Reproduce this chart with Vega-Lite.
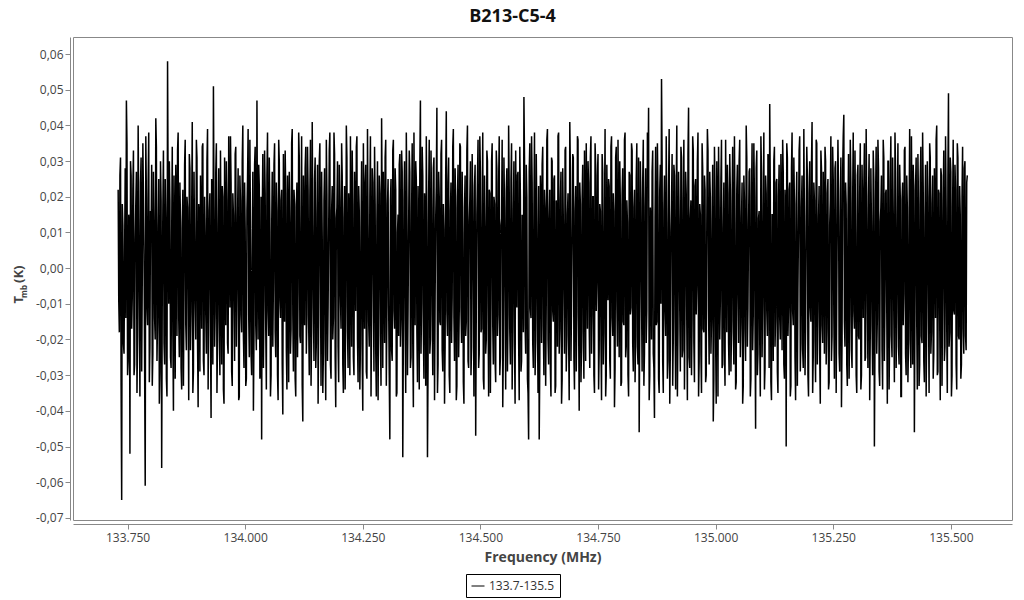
{
"$schema": "https://vega.github.io/schema/vega-lite/v6.json",
"width": 939,
"height": 483,
"autosize": {"type": "none"},
"padding": {"left": 73, "top": 37, "right": 12, "bottom": 80},
"background": "white",
"title": {"text": "B213-C5-4", "fontSize": 18, "fontWeight": "bold", "font": "Open Sans", "color": "#111111", "anchor": "middle", "dx": -30, "offset": 11},
"config": {
"font": "Open Sans",
"view": {"stroke": "#888888", "strokeWidth": 1},
"axis": {"grid": false, "domainColor": "#888888", "tickColor": "#888888", "labelColor": "#444444", "labelFontSize": 12, "labelFont": "Open Sans", "titleColor": "#444444", "titleFontSize": 14, "titleFontWeight": "bold", "titleFont": "Open Sans"}
},
"data": {"values": [
{"f":133.7300,"t":0.022},{"f":133.7325,"t":-0.018},{"f":133.7350,"t":0.031},{"f":133.7375,"t":-0.065},
{"f":133.7400,"t":0.012},{"f":133.7425,"t":-0.024},{"f":133.7450,"t":0.028},{"f":133.7475,"t":0.047},
{"f":133.7500,"t":-0.030},{"f":133.7525,"t":0.015},{"f":133.7550,"t":-0.052},{"f":133.7575,"t":0.026},
{"f":133.7600,"t":-0.008},{"f":133.7625,"t":0.033},{"f":133.7650,"t":-0.027},{"f":133.7675,"t":0.018},
{"f":133.7700,"t":-0.035},{"f":133.7725,"t":0.040},{"f":133.7750,"t":-0.012},{"f":133.7775,"t":0.024},
{"f":133.7800,"t":-0.029},{"f":133.7825,"t":0.035},{"f":133.7850,"t":0.004},{"f":133.7875,"t":-0.061},
{"f":133.7900,"t":0.020},{"f":133.7925,"t":-0.016},{"f":133.7950,"t":0.038},{"f":133.7975,"t":-0.022},
{"f":133.8000,"t":0.009},{"f":133.8025,"t":-0.033},{"f":133.8050,"t":0.027},{"f":133.8075,"t":-0.014},
{"f":133.8100,"t":0.042},{"f":133.8125,"t":-0.026},{"f":133.8150,"t":0.011},{"f":133.8175,"t":-0.038},
{"f":133.8200,"t":0.030},{"f":133.8225,"t":-0.056},{"f":133.8250,"t":0.016},{"f":133.8275,"t":-0.021},
{"f":133.8300,"t":0.025},{"f":133.8325,"t":-0.031},{"f":133.8350,"t":0.058},{"f":133.8375,"t":-0.010},
{"f":133.8400,"t":0.019},{"f":133.8425,"t":-0.028},{"f":133.8450,"t":0.034},{"f":133.8475,"t":-0.040},
{"f":133.8500,"t":0.007},{"f":133.8525,"t":0.029},{"f":133.8550,"t":-0.019},{"f":133.8575,"t":0.038},
{"f":133.8600,"t":-0.025},{"f":133.8625,"t":0.013},{"f":133.8650,"t":-0.034},{"f":133.8675,"t":0.022},
{"f":133.8700,"t":-0.006},{"f":133.8725,"t":0.036},{"f":133.8750,"t":-0.023},{"f":133.8775,"t":0.017},
{"f":133.8800,"t":-0.037},{"f":133.8825,"t":0.028},{"f":133.8850,"t":-0.012},{"f":133.8875,"t":0.041},
{"f":133.8900,"t":-0.029},{"f":133.8925,"t":0.006},{"f":133.8950,"t":-0.020},{"f":133.8975,"t":0.031},
{"f":133.9000,"t":-0.039},{"f":133.9025,"t":0.014},{"f":133.9050,"t":0.026},{"f":133.9075,"t":-0.017},
{"f":133.9100,"t":0.035},{"f":133.9125,"t":-0.030},{"f":133.9150,"t":0.010},{"f":133.9175,"t":-0.024},
{"f":133.9200,"t":0.039},{"f":133.9225,"t":-0.008},{"f":133.9250,"t":0.021},{"f":133.9275,"t":-0.042},
{"f":133.9300,"t":0.018},{"f":133.9325,"t":0.051},{"f":133.9350,"t":-0.022},{"f":133.9375,"t":0.027},
{"f":133.9400,"t":-0.035},{"f":133.9425,"t":0.012},{"f":133.9450,"t":-0.015},{"f":133.9475,"t":0.033},
{"f":133.9500,"t":-0.027},{"f":133.9525,"t":0.020},{"f":133.9550,"t":-0.038},{"f":133.9575,"t":0.008},
{"f":133.9600,"t":0.030},{"f":133.9625,"t":-0.021},{"f":133.9650,"t":0.037},{"f":133.9675,"t":-0.011},
{"f":133.9700,"t":0.024},{"f":133.9725,"t":-0.033},{"f":133.9750,"t":0.015},{"f":133.9775,"t":-0.026},
{"f":133.9800,"t":0.034},{"f":133.9825,"t":-0.005},{"f":133.9850,"t":0.028},{"f":133.9875,"t":-0.036},
{"f":133.9900,"t":0.019},{"f":133.9925,"t":-0.018},{"f":133.9950,"t":0.040},{"f":133.9975,"t":-0.028},
{"f":134.0000,"t":0.011},{"f":134.0025,"t":-0.031},{"f":134.0050,"t":0.025},{"f":134.0075,"t":-0.013},
{"f":134.0100,"t":0.036},{"f":134.0125,"t":-0.024},{"f":134.0150,"t":0.003},{"f":134.0175,"t":-0.040},
{"f":134.0200,"t":0.029},{"f":134.0225,"t":-0.016},{"f":134.0250,"t":0.047},{"f":134.0275,"t":-0.020},
{"f":134.0300,"t":0.023},{"f":134.0325,"t":-0.027},{"f":134.0350,"t":-0.048},{"f":134.0375,"t":0.032},
{"f":134.0400,"t":-0.009},{"f":134.0425,"t":0.021},{"f":134.0450,"t":-0.034},{"f":134.0475,"t":0.038},
{"f":134.0500,"t":-0.019},{"f":134.0525,"t":0.014},{"f":134.0550,"t":-0.030},{"f":134.0575,"t":0.027},
{"f":134.0600,"t":-0.004},{"f":134.0625,"t":0.035},{"f":134.0650,"t":-0.025},{"f":134.0675,"t":0.016},
{"f":134.0700,"t":-0.037},{"f":134.0725,"t":0.030},{"f":134.0750,"t":-0.014},{"f":134.0775,"t":0.022},
{"f":134.0800,"t":-0.041},{"f":134.0825,"t":0.009},{"f":134.0850,"t":0.033},{"f":134.0875,"t":-0.023},
{"f":134.0900,"t":0.026},{"f":134.0925,"t":-0.032},{"f":134.0950,"t":0.013},{"f":134.0975,"t":-0.017},
{"f":134.1000,"t":0.039},{"f":134.1025,"t":-0.029},{"f":134.1050,"t":0.018},{"f":134.1075,"t":-0.036},
{"f":134.1100,"t":0.024},{"f":134.1125,"t":-0.007},{"f":134.1150,"t":0.031},{"f":134.1175,"t":-0.021},
{"f":134.1200,"t":0.037},{"f":134.1225,"t":-0.043},{"f":134.1250,"t":0.012},{"f":134.1275,"t":0.028},
{"f":134.1300,"t":-0.024},{"f":134.1325,"t":0.034},{"f":134.1350,"t":-0.016},{"f":134.1375,"t":0.020},
{"f":134.1400,"t":-0.033},{"f":134.1425,"t":0.041},{"f":134.1450,"t":-0.011},{"f":134.1475,"t":0.025},
{"f":134.1500,"t":-0.028},{"f":134.1525,"t":0.015},{"f":134.1550,"t":-0.038},{"f":134.1575,"t":0.030},
{"f":134.1600,"t":-0.002},{"f":134.1625,"t":0.027},{"f":134.1650,"t":-0.035},{"f":134.1675,"t":0.019},
{"f":134.1700,"t":-0.020},{"f":134.1725,"t":0.036},{"f":134.1750,"t":-0.026},{"f":134.1775,"t":0.010},
{"f":134.1800,"t":0.038},{"f":134.1825,"t":-0.031},{"f":134.1850,"t":0.023},{"f":134.1875,"t":-0.014},
{"f":134.1900,"t":0.032},{"f":134.1925,"t":-0.039},{"f":134.1950,"t":0.017},{"f":134.1975,"t":-0.022},
{"f":134.2000,"t":0.029},{"f":134.2025,"t":-0.008},{"f":134.2050,"t":0.035},{"f":134.2075,"t":-0.027},
{"f":134.2100,"t":0.014},{"f":134.2125,"t":-0.034},{"f":134.2150,"t":0.040},{"f":134.2175,"t":-0.018},
{"f":134.2200,"t":0.021},{"f":134.2225,"t":-0.030},{"f":134.2250,"t":0.006},{"f":134.2275,"t":0.033},
{"f":134.2300,"t":-0.025},{"f":134.2325,"t":0.027},{"f":134.2350,"t":-0.012},{"f":134.2375,"t":0.037},
{"f":134.2400,"t":-0.032},{"f":134.2425,"t":0.016},{"f":134.2450,"t":-0.021},{"f":134.2475,"t":0.030},
{"f":134.2500,"t":-0.040},{"f":134.2525,"t":0.011},{"f":134.2550,"t":0.024},{"f":134.2575,"t":-0.029},
{"f":134.2600,"t":0.039},{"f":134.2625,"t":-0.015},{"f":134.2650,"t":0.020},{"f":134.2675,"t":-0.036},
{"f":134.2700,"t":0.028},{"f":134.2725,"t":-0.006},{"f":134.2750,"t":0.034},{"f":134.2775,"t":-0.023},
{"f":134.2800,"t":0.013},{"f":134.2825,"t":-0.037},{"f":134.2850,"t":0.026},{"f":134.2875,"t":-0.019},
{"f":134.2900,"t":0.042},{"f":134.2925,"t":-0.028},{"f":134.2950,"t":0.008},{"f":134.2975,"t":0.031},
{"f":134.3000,"t":-0.033},{"f":134.3025,"t":0.018},{"f":134.3050,"t":-0.011},{"f":134.3075,"t":-0.048},
{"f":134.3100,"t":0.025},{"f":134.3125,"t":-0.026},{"f":134.3150,"t":0.036},{"f":134.3175,"t":-0.017},
{"f":134.3200,"t":0.022},{"f":134.3225,"t":-0.035},{"f":134.3250,"t":0.015},{"f":134.3275,"t":0.029},
{"f":134.3300,"t":-0.022},{"f":134.3325,"t":0.033},{"f":134.3350,"t":-0.053},{"f":134.3375,"t":0.019},
{"f":134.3400,"t":-0.014},{"f":134.3425,"t":0.038},{"f":134.3450,"t":-0.030},{"f":134.3475,"t":0.012},
{"f":134.3500,"t":0.027},{"f":134.3525,"t":-0.025},{"f":134.3550,"t":0.035},{"f":134.3575,"t":-0.039},
{"f":134.3600,"t":0.009},{"f":134.3625,"t":0.030},{"f":134.3650,"t":-0.018},{"f":134.3675,"t":0.023},
{"f":134.3700,"t":-0.034},{"f":134.3725,"t":0.047},{"f":134.3750,"t":-0.010},{"f":134.3775,"t":0.026},
{"f":134.3800,"t":-0.031},{"f":134.3825,"t":0.016},{"f":134.3850,"t":0.037},{"f":134.3875,"t":-0.053},
{"f":134.3900,"t":0.021},{"f":134.3925,"t":-0.024},{"f":134.3950,"t":0.033},{"f":134.3975,"t":-0.013},
{"f":134.4000,"t":0.028},{"f":134.4025,"t":-0.037},{"f":134.4050,"t":0.014},{"f":134.4075,"t":0.045},
{"f":134.4100,"t":-0.027},{"f":134.4125,"t":0.020},{"f":134.4150,"t":-0.016},{"f":134.4175,"t":0.036},
{"f":134.4200,"t":-0.029},{"f":134.4225,"t":0.011},{"f":134.4250,"t":-0.022},{"f":134.4275,"t":0.044},
{"f":134.4300,"t":-0.019},{"f":134.4325,"t":0.031},{"f":134.4350,"t":-0.035},{"f":134.4375,"t":0.024},
{"f":134.4400,"t":-0.008},{"f":134.4425,"t":0.039},{"f":134.4450,"t":-0.026},{"f":134.4475,"t":0.017},
{"f":134.4500,"t":-0.033},{"f":134.4525,"t":0.029},{"f":134.4550,"t":-0.012},{"f":134.4575,"t":0.034},
{"f":134.4600,"t":-0.021},{"f":134.4625,"t":0.010},{"f":134.4650,"t":-0.038},{"f":134.4675,"t":0.026},
{"f":134.4700,"t":-0.015},{"f":134.4725,"t":0.040},{"f":134.4750,"t":-0.028},{"f":134.4775,"t":0.019},
{"f":134.4800,"t":-0.030},{"f":134.4825,"t":0.032},{"f":134.4850,"t":-0.005},{"f":134.4875,"t":0.023},
{"f":134.4900,"t":-0.047},{"f":134.4925,"t":0.015},{"f":134.4950,"t":0.036},{"f":134.4975,"t":-0.024},
{"f":134.5000,"t":0.027},{"f":134.5025,"t":-0.017},{"f":134.5050,"t":0.038},{"f":134.5075,"t":-0.034},
{"f":134.5100,"t":0.012},{"f":134.5125,"t":-0.020},{"f":134.5150,"t":0.030},{"f":134.5175,"t":-0.036},
{"f":134.5200,"t":0.021},{"f":134.5225,"t":-0.009},{"f":134.5250,"t":0.035},{"f":134.5275,"t":-0.027},
{"f":134.5300,"t":0.018},{"f":134.5325,"t":-0.032},{"f":134.5350,"t":0.028},{"f":134.5375,"t":-0.013},
{"f":134.5400,"t":0.037},{"f":134.5425,"t":-0.025},{"f":134.5450,"t":0.014},{"f":134.5475,"t":-0.039},
{"f":134.5500,"t":0.031},{"f":134.5525,"t":-0.007},{"f":134.5550,"t":0.022},{"f":134.5575,"t":-0.029},
{"f":134.5600,"t":0.040},{"f":134.5625,"t":-0.018},{"f":134.5650,"t":0.025},{"f":134.5675,"t":-0.034},
{"f":134.5700,"t":0.016},{"f":134.5725,"t":-0.022},{"f":134.5750,"t":0.033},{"f":134.5775,"t":-0.011},
{"f":134.5800,"t":0.027},{"f":134.5825,"t":-0.037},{"f":134.5850,"t":0.020},{"f":134.5875,"t":-0.026},
{"f":134.5900,"t":0.011},{"f":134.5925,"t":0.048},{"f":134.5950,"t":-0.016},{"f":134.5975,"t":0.029},
{"f":134.6000,"t":-0.031},{"f":134.6025,"t":-0.048},{"f":134.6050,"t":0.035},{"f":134.6075,"t":-0.014},
{"f":134.6100,"t":0.024},{"f":134.6125,"t":-0.028},{"f":134.6150,"t":0.038},{"f":134.6175,"t":-0.020},
{"f":134.6200,"t":0.013},{"f":134.6225,"t":-0.035},{"f":134.6250,"t":-0.048},{"f":134.6275,"t":0.026},
{"f":134.6300,"t":-0.021},{"f":134.6325,"t":0.034},{"f":134.6350,"t":-0.030},{"f":134.6375,"t":0.017},
{"f":134.6400,"t":-0.009},{"f":134.6425,"t":0.039},{"f":134.6450,"t":-0.027},{"f":134.6475,"t":0.022},
{"f":134.6500,"t":-0.036},{"f":134.6525,"t":0.030},{"f":134.6550,"t":-0.015},{"f":134.6575,"t":0.026},
{"f":134.6600,"t":-0.033},{"f":134.6625,"t":0.012},{"f":134.6650,"t":0.037},{"f":134.6675,"t":-0.024},
{"f":134.6700,"t":0.019},{"f":134.6725,"t":-0.038},{"f":134.6750,"t":0.028},{"f":134.6775,"t":-0.006},
{"f":134.6800,"t":0.033},{"f":134.6825,"t":-0.029},{"f":134.6850,"t":0.015},{"f":134.6875,"t":-0.019},
{"f":134.6900,"t":0.041},{"f":134.6925,"t":-0.026},{"f":134.6950,"t":0.010},{"f":134.6975,"t":0.031},
{"f":134.7000,"t":-0.034},{"f":134.7025,"t":0.023},{"f":134.7050,"t":-0.012},{"f":134.7075,"t":0.036},
{"f":134.7100,"t":-0.040},{"f":134.7125,"t":0.018},{"f":134.7150,"t":-0.022},{"f":134.7175,"t":0.029},
{"f":134.7200,"t":-0.031},{"f":134.7225,"t":0.014},{"f":134.7250,"t":0.035},{"f":134.7275,"t":-0.017},
{"f":134.7300,"t":0.024},{"f":134.7325,"t":-0.028},{"f":134.7350,"t":0.037},{"f":134.7375,"t":-0.013},
{"f":134.7400,"t":0.020},{"f":134.7425,"t":-0.035},{"f":134.7450,"t":0.029},{"f":134.7475,"t":-0.004},
{"f":134.7500,"t":0.032},{"f":134.7525,"t":-0.023},{"f":134.7550,"t":0.016},{"f":134.7575,"t":-0.037},
{"f":134.7600,"t":0.027},{"f":134.7625,"t":-0.018},{"f":134.7650,"t":0.039},{"f":134.7675,"t":-0.030},
{"f":134.7700,"t":0.011},{"f":134.7725,"t":0.025},{"f":134.7750,"t":-0.026},{"f":134.7775,"t":0.034},
{"f":134.7800,"t":-0.014},{"f":134.7825,"t":0.021},{"f":134.7850,"t":-0.039},{"f":134.7875,"t":0.031},
{"f":134.7900,"t":-0.009},{"f":134.7925,"t":0.036},{"f":134.7950,"t":-0.025},{"f":134.7975,"t":0.018},
{"f":134.8000,"t":-0.032},{"f":134.8025,"t":0.028},{"f":134.8050,"t":-0.016},{"f":134.8075,"t":0.038},
{"f":134.8100,"t":-0.022},{"f":134.8125,"t":0.013},{"f":134.8150,"t":-0.036},{"f":134.8175,"t":0.026},
{"f":134.8200,"t":-0.011},{"f":134.8225,"t":0.033},{"f":134.8250,"t":-0.029},{"f":134.8275,"t":0.022},
{"f":134.8300,"t":-0.019},{"f":134.8325,"t":0.035},{"f":134.8350,"t":-0.027},{"f":134.8375,"t":-0.046},
{"f":134.8400,"t":0.030},{"f":134.8425,"t":-0.008},{"f":134.8450,"t":0.024},{"f":134.8475,"t":-0.033},
{"f":134.8500,"t":0.017},{"f":134.8525,"t":-0.021},{"f":134.8550,"t":0.038},{"f":134.8575,"t":0.045},
{"f":134.8600,"t":-0.030},{"f":134.8625,"t":0.012},{"f":134.8650,"t":0.027},{"f":134.8675,"t":-0.024},
{"f":134.8700,"t":-0.042},{"f":134.8725,"t":0.034},{"f":134.8750,"t":-0.015},{"f":134.8775,"t":0.020},
{"f":134.8800,"t":-0.035},{"f":134.8825,"t":0.029},{"f":134.8850,"t":0.053},{"f":134.8875,"t":-0.026},
{"f":134.8900,"t":0.016},{"f":134.8925,"t":-0.012},{"f":134.8950,"t":0.037},{"f":134.8975,"t":-0.031},
{"f":134.9000,"t":0.023},{"f":134.9025,"t":-0.038},{"f":134.9050,"t":0.010},{"f":134.9075,"t":0.032},
{"f":134.9100,"t":-0.020},{"f":134.9125,"t":0.026},{"f":134.9150,"t":-0.034},{"f":134.9175,"t":0.040},
{"f":134.9200,"t":-0.017},{"f":134.9225,"t":0.014},{"f":134.9250,"t":-0.029},{"f":134.9275,"t":0.031},
{"f":134.9300,"t":-0.023},{"f":134.9325,"t":0.036},{"f":134.9350,"t":-0.010},{"f":134.9375,"t":0.021},
{"f":134.9400,"t":-0.037},{"f":134.9425,"t":0.045},{"f":134.9450,"t":-0.028},{"f":134.9475,"t":0.019},
{"f":134.9500,"t":-0.014},{"f":134.9525,"t":0.033},{"f":134.9550,"t":-0.032},{"f":134.9575,"t":0.025},
{"f":134.9600,"t":-0.005},{"f":134.9625,"t":0.038},{"f":134.9650,"t":-0.026},{"f":134.9675,"t":0.015},
{"f":134.9700,"t":-0.035},{"f":134.9725,"t":0.028},{"f":134.9750,"t":-0.018},{"f":134.9775,"t":0.022},
{"f":134.9800,"t":-0.030},{"f":134.9825,"t":0.039},{"f":134.9850,"t":-0.012},{"f":134.9875,"t":0.027},
{"f":134.9900,"t":-0.024},{"f":134.9925,"t":0.013},{"f":134.9950,"t":-0.043},{"f":134.9975,"t":0.034},
{"f":135.0000,"t":-0.020},{"f":135.0025,"t":0.030},{"f":135.0050,"t":-0.036},{"f":135.0075,"t":0.017},
{"f":135.0100,"t":-0.009},{"f":135.0125,"t":0.036},{"f":135.0150,"t":-0.027},{"f":135.0175,"t":0.024},
{"f":135.0200,"t":-0.033},{"f":135.0225,"t":0.011},{"f":135.0250,"t":0.029},{"f":135.0275,"t":-0.021},
{"f":135.0300,"t":0.032},{"f":135.0325,"t":-0.029},{"f":135.0350,"t":0.018},{"f":135.0375,"t":-0.015},
{"f":135.0400,"t":0.037},{"f":135.0425,"t":-0.034},{"f":135.0450,"t":0.022},{"f":135.0475,"t":-0.007},
{"f":135.0500,"t":0.030},{"f":135.0525,"t":-0.025},{"f":135.0550,"t":0.014},{"f":135.0575,"t":-0.038},
{"f":135.0600,"t":0.026},{"f":135.0625,"t":-0.017},{"f":135.0650,"t":0.040},{"f":135.0675,"t":-0.022},
{"f":135.0700,"t":0.012},{"f":135.0725,"t":0.028},{"f":135.0750,"t":-0.031},{"f":135.0775,"t":0.035},
{"f":135.0800,"t":-0.013},{"f":135.0825,"t":0.020},{"f":135.0850,"t":-0.045},{"f":135.0875,"t":0.033},
{"f":135.0900,"t":-0.024},{"f":135.0925,"t":0.016},{"f":135.0950,"t":-0.036},{"f":135.0975,"t":0.027},
{"f":135.1000,"t":-0.010},{"f":135.1025,"t":0.038},{"f":135.1050,"t":-0.028},{"f":135.1075,"t":0.021},
{"f":135.1100,"t":-0.019},{"f":135.1125,"t":0.031},{"f":135.1150,"t":0.046},{"f":135.1175,"t":-0.032},
{"f":135.1200,"t":0.015},{"f":135.1225,"t":-0.026},{"f":135.1250,"t":0.034},{"f":135.1275,"t":-0.014},
{"f":135.1300,"t":0.025},{"f":135.1325,"t":-0.035},{"f":135.1350,"t":0.029},{"f":135.1375,"t":-0.020},
{"f":135.1400,"t":0.013},{"f":135.1425,"t":0.036},{"f":135.1450,"t":-0.027},{"f":135.1475,"t":0.022},
{"f":135.1500,"t":-0.050},{"f":135.1525,"t":0.031},{"f":135.1550,"t":-0.011},{"f":135.1575,"t":0.024},
{"f":135.1600,"t":-0.033},{"f":135.1625,"t":0.038},{"f":135.1650,"t":-0.016},{"f":135.1675,"t":0.018},
{"f":135.1700,"t":-0.037},{"f":135.1725,"t":0.027},{"f":135.1750,"t":-0.006},{"f":135.1775,"t":0.033},
{"f":135.1800,"t":-0.029},{"f":135.1825,"t":0.017},{"f":135.1850,"t":-0.023},{"f":135.1875,"t":0.039},
{"f":135.1900,"t":-0.030},{"f":135.1925,"t":0.011},{"f":135.1950,"t":0.026},{"f":135.1975,"t":-0.036},
{"f":135.2000,"t":0.030},{"f":135.2025,"t":-0.015},{"f":135.2050,"t":0.041},{"f":135.2075,"t":-0.025},
{"f":135.2100,"t":0.019},{"f":135.2125,"t":-0.032},{"f":135.2150,"t":0.035},{"f":135.2175,"t":-0.012},
{"f":135.2200,"t":0.023},{"f":135.2225,"t":-0.038},{"f":135.2250,"t":0.028},{"f":135.2275,"t":-0.021},
{"f":135.2300,"t":0.016},{"f":135.2325,"t":0.034},{"f":135.2350,"t":-0.027},{"f":135.2375,"t":0.021},
{"f":135.2400,"t":-0.034},{"f":135.2425,"t":0.012},{"f":135.2450,"t":0.037},{"f":135.2475,"t":-0.019},
{"f":135.2500,"t":0.025},{"f":135.2525,"t":-0.031},{"f":135.2550,"t":0.030},{"f":135.2575,"t":-0.008},
{"f":135.2600,"t":0.036},{"f":135.2625,"t":-0.024},{"f":135.2650,"t":0.014},{"f":135.2675,"t":-0.039},
{"f":135.2700,"t":0.027},{"f":135.2725,"t":0.043},{"f":135.2750,"t":-0.022},{"f":135.2775,"t":0.018},
{"f":135.2800,"t":-0.033},{"f":135.2825,"t":0.032},{"f":135.2850,"t":-0.013},{"f":135.2875,"t":0.024},
{"f":135.2900,"t":-0.028},{"f":135.2925,"t":0.038},{"f":135.2950,"t":-0.017},{"f":135.2975,"t":0.010},
{"f":135.3000,"t":-0.035},{"f":135.3025,"t":0.029},{"f":135.3050,"t":-0.020},{"f":135.3075,"t":0.035},
{"f":135.3100,"t":-0.030},{"f":135.3125,"t":0.015},{"f":135.3150,"t":0.022},{"f":135.3175,"t":-0.026},
{"f":135.3200,"t":0.039},{"f":135.3225,"t":-0.011},{"f":135.3250,"t":0.020},{"f":135.3275,"t":-0.037},
{"f":135.3300,"t":0.028},{"f":135.3325,"t":-0.016},{"f":135.3350,"t":0.033},{"f":135.3375,"t":-0.050},
{"f":135.3400,"t":0.019},{"f":135.3425,"t":-0.024},{"f":135.3450,"t":0.036},{"f":135.3475,"t":-0.029},
{"f":135.3500,"t":0.013},{"f":135.3525,"t":0.026},{"f":135.3550,"t":-0.034},{"f":135.3575,"t":0.031},
{"f":135.3600,"t":-0.009},{"f":135.3625,"t":0.022},{"f":135.3650,"t":-0.038},{"f":135.3675,"t":0.030},
{"f":135.3700,"t":-0.018},{"f":135.3725,"t":0.037},{"f":135.3750,"t":-0.025},{"f":135.3775,"t":0.016},
{"f":135.3800,"t":-0.032},{"f":135.3825,"t":0.027},{"f":135.3850,"t":-0.012},{"f":135.3875,"t":0.035},
{"f":135.3900,"t":-0.027},{"f":135.3925,"t":0.020},{"f":135.3950,"t":-0.036},{"f":135.3975,"t":0.024},
{"f":135.4000,"t":-0.007},{"f":135.4025,"t":0.034},{"f":135.4050,"t":-0.030},{"f":135.4075,"t":0.017},
{"f":135.4100,"t":-0.021},{"f":135.4125,"t":0.039},{"f":135.4150,"t":-0.028},{"f":135.4175,"t":0.011},
{"f":135.4200,"t":0.029},{"f":135.4225,"t":-0.046},{"f":135.4250,"t":0.023},{"f":135.4275,"t":-0.015},
{"f":135.4300,"t":0.032},{"f":135.4325,"t":-0.033},{"f":135.4350,"t":0.025},{"f":135.4375,"t":-0.019},
{"f":135.4400,"t":0.038},{"f":135.4425,"t":-0.026},{"f":135.4450,"t":0.014},{"f":135.4475,"t":-0.036},
{"f":135.4500,"t":0.030},{"f":135.4525,"t":-0.010},{"f":135.4550,"t":0.035},{"f":135.4575,"t":-0.024},
{"f":135.4600,"t":0.018},{"f":135.4625,"t":-0.031},{"f":135.4650,"t":0.028},{"f":135.4675,"t":-0.014},
{"f":135.4700,"t":0.040},{"f":135.4725,"t":-0.029},{"f":135.4750,"t":0.021},{"f":135.4775,"t":-0.037},
{"f":135.4800,"t":0.026},{"f":135.4825,"t":-0.008},{"f":135.4850,"t":0.033},{"f":135.4875,"t":-0.022},
{"f":135.4900,"t":0.017},{"f":135.4925,"t":-0.035},{"f":135.4950,"t":0.049},{"f":135.4975,"t":-0.018},
{"f":135.5000,"t":0.027},{"f":135.5025,"t":-0.030},{"f":135.5050,"t":0.036},{"f":135.5075,"t":-0.013},
{"f":135.5100,"t":0.022},{"f":135.5125,"t":-0.034},{"f":135.5150,"t":0.031},{"f":135.5175,"t":-0.020},
{"f":135.5200,"t":0.015},{"f":135.5225,"t":-0.027},{"f":135.5250,"t":0.034},{"f":135.5275,"t":-0.024},
{"f":135.5300,"t":0.030},{"f":135.5325,"t":-0.023},{"f":135.5350,"t":0.026},
{"f":133.73125,"t":-0.009},{"f":133.73375,"t":0.026},{"f":133.73625,"t":-0.033},{"f":133.73875,"t":0.018},
{"f":133.74125,"t":-0.021},{"f":133.74375,"t":0.005},{"f":133.74625,"t":-0.014},{"f":133.74875,"t":0.035},
{"f":133.75125,"t":-0.026},{"f":133.75375,"t":0.012},{"f":133.75625,"t":0.030},{"f":133.75875,"t":-0.017},
{"f":133.76125,"t":0.022},{"f":133.76375,"t":-0.030},{"f":133.76625,"t":0.008},{"f":133.76875,"t":0.027},
{"f":133.77125,"t":-0.019},{"f":133.77375,"t":0.014},{"f":133.77625,"t":-0.036},{"f":133.77875,"t":0.031},
{"f":133.78125,"t":-0.003},{"f":133.78375,"t":0.020},{"f":133.78625,"t":-0.028},{"f":133.78875,"t":0.037},
{"f":133.79125,"t":-0.011},{"f":133.79375,"t":0.024},{"f":133.79625,"t":-0.032},{"f":133.79875,"t":0.016},
{"f":133.80125,"t":0.029},{"f":133.80375,"t":-0.024},{"f":133.80625,"t":0.013},{"f":133.80875,"t":-0.020},
{"f":133.81125,"t":0.034},{"f":133.81375,"t":-0.015},{"f":133.81625,"t":0.025},{"f":133.81875,"t":-0.029},
{"f":133.82125,"t":0.019},{"f":133.82375,"t":-0.007},{"f":133.82625,"t":0.033},{"f":133.82875,"t":-0.027},
{"f":133.83125,"t":0.014},{"f":133.83375,"t":-0.036},{"f":133.83625,"t":0.021},{"f":133.83875,"t":0.030},
{"f":133.84125,"t":-0.025},{"f":133.84375,"t":0.009},{"f":133.84625,"t":-0.018},{"f":133.84875,"t":0.026},
{"f":133.85125,"t":-0.031},{"f":133.85375,"t":0.019},{"f":133.85625,"t":0.033},{"f":133.85875,"t":-0.014},
{"f":133.86125,"t":0.024},{"f":133.86375,"t":-0.028},{"f":133.86625,"t":0.011},{"f":133.86875,"t":-0.033},
{"f":133.87125,"t":0.029},{"f":133.87375,"t":-0.016},{"f":133.87625,"t":0.020},{"f":133.87875,"t":-0.006},
{"f":133.88125,"t":0.032},{"f":133.88375,"t":-0.023},{"f":133.88625,"t":0.015},{"f":133.88875,"t":-0.035},
{"f":133.89125,"t":0.027},{"f":133.89375,"t":-0.010},{"f":133.89625,"t":0.036},{"f":133.89875,"t":-0.021},
{"f":133.90125,"t":0.018},{"f":133.90375,"t":-0.029},{"f":133.90625,"t":0.012},{"f":133.90875,"t":0.034},
{"f":133.91125,"t":-0.026},{"f":133.91375,"t":0.020},{"f":133.91625,"t":-0.013},{"f":133.91875,"t":0.030},
{"f":133.92125,"t":-0.034},{"f":133.92375,"t":0.016},{"f":133.92625,"t":-0.019},{"f":133.92875,"t":0.025},
{"f":133.93125,"t":-0.027},{"f":133.93375,"t":0.017},{"f":133.93625,"t":-0.012},{"f":133.93875,"t":0.035},
{"f":133.94125,"t":-0.020},{"f":133.94375,"t":0.028},{"f":133.94625,"t":-0.030},{"f":133.94875,"t":0.006},
{"f":133.95125,"t":0.023},{"f":133.95375,"t":-0.034},{"f":133.95625,"t":0.031},{"f":133.95875,"t":-0.016},
{"f":133.96125,"t":0.019},{"f":133.96375,"t":-0.024},{"f":133.96625,"t":0.013},{"f":133.96875,"t":0.037},
{"f":133.97125,"t":-0.029},{"f":133.97375,"t":0.021},{"f":133.97625,"t":-0.009},{"f":133.97875,"t":0.032},
{"f":133.98125,"t":-0.022},{"f":133.98375,"t":0.014},{"f":133.98625,"t":-0.037},{"f":133.98875,"t":0.026},
{"f":133.99125,"t":-0.013},{"f":133.99375,"t":0.030},{"f":133.99625,"t":-0.019},{"f":133.99875,"t":0.024},
{"f":134.00125,"t":-0.033},{"f":134.00375,"t":0.016},{"f":134.00625,"t":0.039},{"f":134.00875,"t":-0.025},
{"f":134.01125,"t":0.011},{"f":134.01375,"t":-0.030},{"f":134.01625,"t":0.027},{"f":134.01875,"t":-0.018},
{"f":134.02125,"t":0.034},{"f":134.02375,"t":-0.023},{"f":134.02625,"t":0.009},{"f":134.02875,"t":0.029},
{"f":134.03125,"t":-0.031},{"f":134.03375,"t":0.020},{"f":134.03625,"t":0.015},{"f":134.03875,"t":-0.028},
{"f":134.04125,"t":0.033},{"f":134.04375,"t":-0.017},{"f":134.04625,"t":0.026},{"f":134.04875,"t":-0.012},
{"f":134.05125,"t":0.031},{"f":134.05375,"t":-0.036},{"f":134.05625,"t":0.010},{"f":134.05875,"t":-0.022},
{"f":134.06125,"t":0.029},{"f":134.06375,"t":-0.018},{"f":134.06625,"t":0.024},{"f":134.06875,"t":-0.030},
{"f":134.07125,"t":0.036},{"f":134.07375,"t":-0.009},{"f":134.07625,"t":0.019},{"f":134.07875,"t":-0.027},
{"f":134.08125,"t":0.032},{"f":134.08375,"t":-0.015},{"f":134.08625,"t":0.021},{"f":134.08875,"t":-0.034},
{"f":134.09125,"t":0.014},{"f":134.09375,"t":0.027},{"f":134.09625,"t":-0.024},{"f":134.09875,"t":0.035},
{"f":134.10125,"t":-0.013},{"f":134.10375,"t":0.022},{"f":134.10625,"t":-0.031},{"f":134.10875,"t":0.017},
{"f":134.11125,"t":-0.025},{"f":134.11375,"t":0.038},{"f":134.11625,"t":-0.019},{"f":134.11875,"t":0.011},
{"f":134.12125,"t":-0.033},{"f":134.12375,"t":0.026},{"f":134.12625,"t":-0.016},{"f":134.12875,"t":0.034},
{"f":134.13125,"t":-0.013},{"f":134.13375,"t":0.022},{"f":134.13625,"t":-0.030},{"f":134.13875,"t":0.036},
{"f":134.14125,"t":-0.018},{"f":134.14375,"t":0.012},{"f":134.14625,"t":-0.026},{"f":134.14875,"t":0.031},
{"f":134.15125,"t":-0.021},{"f":134.15375,"t":0.029},{"f":134.15625,"t":-0.015},{"f":134.15875,"t":0.035},
{"f":134.16125,"t":-0.033},{"f":134.16375,"t":0.009},{"f":134.16625,"t":-0.024},{"f":134.16875,"t":0.028},
{"f":134.17125,"t":-0.037},{"f":134.17375,"t":0.021},{"f":134.17625,"t":-0.011},{"f":134.17875,"t":0.033},
{"f":134.18125,"t":-0.027},{"f":134.18375,"t":0.016},{"f":134.18625,"t":-0.020},{"f":134.18875,"t":0.038},
{"f":134.19125,"t":-0.025},{"f":134.19375,"t":0.014},{"f":134.19625,"t":0.030},{"f":134.19875,"t":-0.032},
{"f":134.20125,"t":0.019},{"f":134.20375,"t":-0.017},{"f":134.20625,"t":0.026},{"f":134.20875,"t":-0.035},
{"f":134.21125,"t":0.023},{"f":134.21375,"t":-0.010},{"f":134.21625,"t":0.031},{"f":134.21875,"t":-0.028},
{"f":134.22125,"t":0.013},{"f":134.22375,"t":0.037},{"f":134.22625,"t":-0.022},{"f":134.22875,"t":0.018},
{"f":134.23125,"t":-0.030},{"f":134.23375,"t":0.014},{"f":134.23625,"t":0.034},{"f":134.23875,"t":-0.020},
{"f":134.24125,"t":0.023},{"f":134.24375,"t":-0.034},{"f":134.24625,"t":0.011},{"f":134.24875,"t":-0.026},
{"f":134.25125,"t":0.035},{"f":134.25375,"t":-0.017},{"f":134.25625,"t":0.029},{"f":134.25875,"t":-0.031},
{"f":134.26125,"t":0.012},{"f":134.26375,"t":-0.022},{"f":134.26625,"t":0.037},{"f":134.26875,"t":-0.013},
{"f":134.27125,"t":0.024},{"f":134.27375,"t":-0.029},{"f":134.27625,"t":0.018},{"f":134.27875,"t":-0.036},
{"f":134.28125,"t":0.030},{"f":134.28375,"t":-0.009},{"f":134.28625,"t":0.021},{"f":134.28875,"t":-0.033},
{"f":134.29125,"t":0.016},{"f":134.29375,"t":0.027},{"f":134.29625,"t":-0.021},{"f":134.29875,"t":0.036},
{"f":134.30125,"t":-0.014},{"f":134.30375,"t":0.025},{"f":134.30625,"t":-0.030},{"f":134.30875,"t":0.019},
{"f":134.31125,"t":-0.023},{"f":134.31375,"t":0.033},{"f":134.31625,"t":-0.012},{"f":134.31875,"t":0.028},
{"f":134.32125,"t":-0.036},{"f":134.32375,"t":0.010},{"f":134.32625,"t":-0.019},{"f":134.32875,"t":0.032},
{"f":134.33125,"t":-0.014},{"f":134.33375,"t":0.027},{"f":134.33625,"t":-0.019},{"f":134.33875,"t":0.030},
{"f":134.34125,"t":-0.035},{"f":134.34375,"t":0.020},{"f":134.34625,"t":-0.011},{"f":134.34875,"t":0.033},
{"f":134.35125,"t":-0.028},{"f":134.35375,"t":0.015},{"f":134.35625,"t":-0.021},{"f":134.35875,"t":0.038},
{"f":134.36125,"t":-0.016},{"f":134.36375,"t":0.025},{"f":134.36625,"t":-0.032},{"f":134.36875,"t":0.011},
{"f":134.37125,"t":0.029},{"f":134.37375,"t":-0.024},{"f":134.37625,"t":0.034},{"f":134.37875,"t":-0.018},
{"f":134.38125,"t":0.021},{"f":134.38375,"t":-0.033},{"f":134.38625,"t":0.013},{"f":134.38875,"t":-0.027},
{"f":134.39125,"t":0.036},{"f":134.39375,"t":-0.020},{"f":134.39625,"t":0.017},{"f":134.39875,"t":-0.030},
{"f":134.40125,"t":0.031},{"f":134.40375,"t":-0.008},{"f":134.40625,"t":0.023},{"f":134.40875,"t":-0.035},
{"f":134.41125,"t":0.027},{"f":134.41375,"t":-0.015},{"f":134.41625,"t":0.032},{"f":134.41875,"t":-0.023},
{"f":134.42125,"t":0.018},{"f":134.42375,"t":-0.038},{"f":134.42625,"t":0.026},{"f":134.42875,"t":-0.012},
{"f":134.43125,"t":0.024},{"f":134.43375,"t":-0.030},{"f":134.43625,"t":0.016},{"f":134.43875,"t":-0.021},
{"f":134.44125,"t":0.034},{"f":134.44375,"t":-0.014},{"f":134.44625,"t":0.028},{"f":134.44875,"t":-0.037},
{"f":134.45125,"t":0.020},{"f":134.45375,"t":-0.025},{"f":134.45625,"t":0.035},{"f":134.45875,"t":-0.011},
{"f":134.46125,"t":0.027},{"f":134.46375,"t":-0.032},{"f":134.46625,"t":0.017},{"f":134.46875,"t":-0.019},
{"f":134.47125,"t":0.033},{"f":134.47375,"t":-0.026},{"f":134.47625,"t":0.013},{"f":134.47875,"t":0.030},
{"f":134.48125,"t":-0.022},{"f":134.48375,"t":0.019},{"f":134.48625,"t":-0.036},{"f":134.48875,"t":0.029},
{"f":134.49125,"t":-0.012},{"f":134.49375,"t":0.025},{"f":134.49625,"t":-0.028},{"f":134.49875,"t":0.037},
{"f":134.50125,"t":-0.018},{"f":134.50375,"t":0.014},{"f":134.50625,"t":-0.031},{"f":134.50875,"t":0.026},
{"f":134.51125,"t":-0.024},{"f":134.51375,"t":0.033},{"f":134.51625,"t":-0.010},{"f":134.51875,"t":0.022},
{"f":134.52125,"t":-0.035},{"f":134.52375,"t":0.030},{"f":134.52625,"t":-0.016},{"f":134.52875,"t":0.020},
{"f":134.53125,"t":-0.026},{"f":134.53375,"t":0.033},{"f":134.53625,"t":-0.019},{"f":134.53875,"t":0.024},
{"f":134.54125,"t":-0.030},{"f":134.54375,"t":0.012},{"f":134.54625,"t":0.036},{"f":134.54875,"t":-0.023},
{"f":134.55125,"t":0.017},{"f":134.55375,"t":-0.034},{"f":134.55625,"t":0.028},{"f":134.55875,"t":-0.013},
{"f":134.56125,"t":0.022},{"f":134.56375,"t":-0.027},{"f":134.56625,"t":0.035},{"f":134.56875,"t":-0.016},
{"f":134.57125,"t":0.030},{"f":134.57375,"t":-0.038},{"f":134.57625,"t":0.011},{"f":134.57875,"t":0.026},
{"f":134.58125,"t":-0.020},{"f":134.58375,"t":0.034},{"f":134.58625,"t":-0.029},{"f":134.58875,"t":0.015},
{"f":134.59125,"t":-0.018},{"f":134.59375,"t":0.031},{"f":134.59625,"t":-0.024},{"f":134.59875,"t":0.020},
{"f":134.60125,"t":-0.035},{"f":134.60375,"t":0.027},{"f":134.60625,"t":-0.011},{"f":134.60875,"t":0.037},
{"f":134.61125,"t":-0.021},{"f":134.61375,"t":0.016},{"f":134.61625,"t":-0.030},{"f":134.61875,"t":0.032},
{"f":134.62125,"t":-0.014},{"f":134.62375,"t":0.023},{"f":134.62625,"t":-0.026},{"f":134.62875,"t":0.018},
{"f":134.63125,"t":0.029},{"f":134.63375,"t":-0.016},{"f":134.63625,"t":0.022},{"f":134.63875,"t":-0.033},
{"f":134.64125,"t":0.036},{"f":134.64375,"t":-0.020},{"f":134.64625,"t":0.014},{"f":134.64875,"t":-0.028},
{"f":134.65125,"t":0.031},{"f":134.65375,"t":-0.012},{"f":134.65625,"t":0.025},{"f":134.65875,"t":-0.035},
{"f":134.66125,"t":0.019},{"f":134.66375,"t":-0.022},{"f":134.66625,"t":0.038},{"f":134.66875,"t":-0.017},
{"f":134.67125,"t":0.027},{"f":134.67375,"t":-0.031},{"f":134.67625,"t":0.013},{"f":134.67875,"t":-0.024},
{"f":134.68125,"t":0.034},{"f":134.68375,"t":-0.019},{"f":134.68625,"t":0.021},{"f":134.68875,"t":-0.037},
{"f":134.69125,"t":0.028},{"f":134.69375,"t":-0.010},{"f":134.69625,"t":0.032},{"f":134.69875,"t":-0.025},
{"f":134.70125,"t":0.016},{"f":134.70375,"t":-0.029},{"f":134.70625,"t":0.037},{"f":134.70875,"t":-0.014},
{"f":134.71125,"t":0.024},{"f":134.71375,"t":-0.032},{"f":134.71625,"t":0.020},{"f":134.71875,"t":-0.018},
{"f":134.72125,"t":0.033},{"f":134.72375,"t":-0.026},{"f":134.72625,"t":0.011},{"f":134.72875,"t":0.030},
{"f":134.73125,"t":-0.016},{"f":134.73375,"t":0.031},{"f":134.73625,"t":-0.024},{"f":134.73875,"t":0.020},
{"f":134.74125,"t":-0.030},{"f":134.74375,"t":0.035},{"f":134.74625,"t":-0.012},{"f":134.74875,"t":0.026},
{"f":134.75125,"t":-0.034},{"f":134.75375,"t":0.018},{"f":134.75625,"t":-0.020},{"f":134.75875,"t":0.032},
{"f":134.76125,"t":-0.027},{"f":134.76375,"t":0.014},{"f":134.76625,"t":-0.036},{"f":134.76875,"t":0.029},
{"f":134.77125,"t":-0.009},{"f":134.77375,"t":0.023},{"f":134.77625,"t":-0.031},{"f":134.77875,"t":0.037},
{"f":134.78125,"t":-0.019},{"f":134.78375,"t":0.016},{"f":134.78625,"t":-0.028},{"f":134.78875,"t":0.034},
{"f":134.79125,"t":-0.022},{"f":134.79375,"t":0.012},{"f":134.79625,"t":0.030},{"f":134.79875,"t":-0.033},
{"f":134.80125,"t":0.021},{"f":134.80375,"t":-0.015},{"f":134.80625,"t":0.036},{"f":134.80875,"t":-0.025},
{"f":134.81125,"t":0.019},{"f":134.81375,"t":-0.030},{"f":134.81625,"t":0.027},{"f":134.81875,"t":-0.013},
{"f":134.82125,"t":0.035},{"f":134.82375,"t":-0.021},{"f":134.82625,"t":0.017},{"f":134.82875,"t":-0.032},
{"f":134.83125,"t":0.025},{"f":134.83375,"t":-0.022},{"f":134.83625,"t":0.031},{"f":134.83875,"t":-0.015},
{"f":134.84125,"t":0.019},{"f":134.84375,"t":-0.029},{"f":134.84625,"t":0.036},{"f":134.84875,"t":-0.024},
{"f":134.85125,"t":0.028},{"f":134.85375,"t":-0.012},{"f":134.85625,"t":0.023},{"f":134.85875,"t":-0.037},
{"f":134.86125,"t":0.017},{"f":134.86375,"t":-0.020},{"f":134.86625,"t":0.033},{"f":134.86875,"t":-0.028},
{"f":134.87125,"t":0.014},{"f":134.87375,"t":-0.016},{"f":134.87625,"t":0.035},{"f":134.87875,"t":-0.031},
{"f":134.88125,"t":0.022},{"f":134.88375,"t":-0.010},{"f":134.88625,"t":0.030},{"f":134.88875,"t":-0.035},
{"f":134.89125,"t":0.026},{"f":134.89375,"t":-0.019},{"f":134.89625,"t":0.013},{"f":134.89875,"t":-0.026},
{"f":134.90125,"t":0.039},{"f":134.90375,"t":-0.023},{"f":134.90625,"t":0.018},{"f":134.90875,"t":-0.033},
{"f":134.91125,"t":0.029},{"f":134.91375,"t":-0.014},{"f":134.91625,"t":0.021},{"f":134.91875,"t":-0.036},
{"f":134.92125,"t":0.027},{"f":134.92375,"t":-0.011},{"f":134.92625,"t":0.034},{"f":134.92875,"t":-0.025},
{"f":134.93125,"t":0.019},{"f":134.93375,"t":-0.034},{"f":134.93625,"t":0.027},{"f":134.93875,"t":-0.016},
{"f":134.94125,"t":0.032},{"f":134.94375,"t":-0.025},{"f":134.94625,"t":0.014},{"f":134.94875,"t":-0.030},
{"f":134.95125,"t":0.037},{"f":134.95375,"t":-0.021},{"f":134.95625,"t":0.023},{"f":134.95875,"t":-0.013},
{"f":134.96125,"t":0.030},{"f":134.96375,"t":-0.036},{"f":134.96625,"t":0.018},{"f":134.96875,"t":-0.024},
{"f":134.97125,"t":0.035},{"f":134.97375,"t":-0.017},{"f":134.97625,"t":0.026},{"f":134.97875,"t":-0.032},
{"f":134.98125,"t":0.012},{"f":134.98375,"t":0.033},{"f":134.98625,"t":-0.027},{"f":134.98875,"t":0.020},
{"f":134.99125,"t":-0.015},{"f":134.99375,"t":0.029},{"f":134.99625,"t":-0.031},{"f":134.99875,"t":0.022},
{"f":135.00125,"t":-0.038},{"f":135.00375,"t":0.016},{"f":135.00625,"t":0.034},{"f":135.00875,"t":-0.020},
{"f":135.01125,"t":0.025},{"f":135.01375,"t":-0.028},{"f":135.01625,"t":0.011},{"f":135.01875,"t":-0.023},
{"f":135.02125,"t":0.036},{"f":135.02375,"t":-0.018},{"f":135.02625,"t":0.021},{"f":135.02875,"t":-0.030},
{"f":135.03125,"t":0.022},{"f":135.03375,"t":-0.018},{"f":135.03625,"t":0.034},{"f":135.03875,"t":-0.027},
{"f":135.04125,"t":0.013},{"f":135.04375,"t":-0.032},{"f":135.04625,"t":0.029},{"f":135.04875,"t":-0.021},
{"f":135.05125,"t":0.036},{"f":135.05375,"t":-0.015},{"f":135.05625,"t":0.024},{"f":135.05875,"t":-0.033},
{"f":135.06125,"t":0.019},{"f":135.06375,"t":-0.026},{"f":135.06625,"t":0.031},{"f":135.06875,"t":-0.011},
{"f":135.07125,"t":0.027},{"f":135.07375,"t":-0.036},{"f":135.07625,"t":0.020},{"f":135.07875,"t":-0.023},
{"f":135.08125,"t":0.035},{"f":135.08375,"t":-0.016},{"f":135.08625,"t":0.028},{"f":135.08875,"t":-0.030},
{"f":135.09125,"t":0.014},{"f":135.09375,"t":-0.020},{"f":135.09625,"t":0.037},{"f":135.09875,"t":-0.025},
{"f":135.10125,"t":0.017},{"f":135.10375,"t":-0.034},{"f":135.10625,"t":0.026},{"f":135.10875,"t":-0.012},
{"f":135.11125,"t":0.032},{"f":135.11375,"t":-0.028},{"f":135.11625,"t":0.021},{"f":135.11875,"t":-0.037},
{"f":135.12125,"t":0.015},{"f":135.12375,"t":0.030},{"f":135.12625,"t":-0.022},{"f":135.12875,"t":0.024},
{"f":135.13125,"t":-0.029},{"f":135.13375,"t":0.020},{"f":135.13625,"t":-0.014},{"f":135.13875,"t":0.032},
{"f":135.14125,"t":-0.023},{"f":135.14375,"t":0.027},{"f":135.14625,"t":-0.031},{"f":135.14875,"t":0.016},
{"f":135.15125,"t":0.035},{"f":135.15375,"t":-0.019},{"f":135.15625,"t":0.022},{"f":135.15875,"t":-0.036},
{"f":135.16125,"t":0.028},{"f":135.16375,"t":-0.012},{"f":135.16625,"t":0.031},{"f":135.16875,"t":-0.025},
{"f":135.17125,"t":0.018},{"f":135.17375,"t":-0.033},{"f":135.17625,"t":0.013},{"f":135.17875,"t":0.037},
{"f":135.18125,"t":-0.021},{"f":135.18375,"t":0.026},{"f":135.18625,"t":-0.028},{"f":135.18875,"t":0.015},
{"f":135.19125,"t":-0.017},{"f":135.19375,"t":0.034},{"f":135.19625,"t":-0.030},{"f":135.19875,"t":0.021},
{"f":135.20125,"t":-0.011},{"f":135.20375,"t":0.029},{"f":135.20625,"t":-0.035},{"f":135.20875,"t":0.024},
{"f":135.21125,"t":-0.020},{"f":135.21375,"t":0.036},{"f":135.21625,"t":-0.027},{"f":135.21875,"t":0.014},
{"f":135.22125,"t":-0.024},{"f":135.22375,"t":0.033},{"f":135.22625,"t":-0.016},{"f":135.22875,"t":0.027},
{"f":135.23125,"t":-0.024},{"f":135.23375,"t":0.030},{"f":135.23625,"t":-0.017},{"f":135.23875,"t":0.025},
{"f":135.24125,"t":-0.032},{"f":135.24375,"t":0.019},{"f":135.24625,"t":-0.026},{"f":135.24875,"t":0.034},
{"f":135.25125,"t":-0.013},{"f":135.25375,"t":0.028},{"f":135.25625,"t":-0.035},{"f":135.25875,"t":0.016},
{"f":135.26125,"t":0.022},{"f":135.26375,"t":-0.029},{"f":135.26625,"t":0.031},{"f":135.26875,"t":-0.020},
{"f":135.27125,"t":0.037},{"f":135.27375,"t":-0.015},{"f":135.27625,"t":0.024},{"f":135.27875,"t":-0.027},
{"f":135.28125,"t":0.013},{"f":135.28375,"t":-0.031},{"f":135.28625,"t":0.036},{"f":135.28875,"t":-0.023},
{"f":135.29125,"t":0.018},{"f":135.29375,"t":-0.012},{"f":135.29625,"t":0.033},{"f":135.29875,"t":-0.030},
{"f":135.30125,"t":0.026},{"f":135.30375,"t":-0.019},{"f":135.30625,"t":0.021},{"f":135.30875,"t":-0.034},
{"f":135.31125,"t":0.029},{"f":135.31375,"t":-0.014},{"f":135.31625,"t":0.035},{"f":135.31875,"t":-0.025},
{"f":135.32125,"t":0.017},{"f":135.32375,"t":-0.028},{"f":135.32625,"t":0.032},{"f":135.32875,"t":-0.018},
{"f":135.33125,"t":0.012},{"f":135.33375,"t":-0.030},{"f":135.33625,"t":0.025},{"f":135.33875,"t":-0.020},
{"f":135.34125,"t":0.034},{"f":135.34375,"t":-0.014},{"f":135.34625,"t":0.028},{"f":135.34875,"t":-0.033},
{"f":135.35125,"t":0.017},{"f":135.35375,"t":-0.023},{"f":135.35625,"t":0.036},{"f":135.35875,"t":-0.026},
{"f":135.36125,"t":0.021},{"f":135.36375,"t":-0.011},{"f":135.36625,"t":0.030},{"f":135.36875,"t":-0.034},
{"f":135.37125,"t":0.024},{"f":135.37375,"t":-0.019},{"f":135.37625,"t":0.031},{"f":135.37875,"t":-0.013},
{"f":135.38125,"t":0.038},{"f":135.38375,"t":-0.028},{"f":135.38625,"t":0.015},{"f":135.38875,"t":-0.022},
{"f":135.39125,"t":0.029},{"f":135.39375,"t":-0.036},{"f":135.39625,"t":0.019},{"f":135.39875,"t":-0.016},
{"f":135.40125,"t":0.033},{"f":135.40375,"t":-0.024},{"f":135.40625,"t":0.026},{"f":135.40875,"t":-0.032},
{"f":135.41125,"t":0.014},{"f":135.41375,"t":-0.020},{"f":135.41625,"t":0.037},{"f":135.41875,"t":-0.027},
{"f":135.42125,"t":0.022},{"f":135.42375,"t":-0.012},{"f":135.42625,"t":0.031},{"f":135.42875,"t":-0.034},
{"f":135.43125,"t":0.018},{"f":135.43375,"t":-0.027},{"f":135.43625,"t":0.034},{"f":135.43875,"t":-0.021},
{"f":135.44125,"t":0.023},{"f":135.44375,"t":-0.032},{"f":135.44625,"t":0.029},{"f":135.44875,"t":-0.015},
{"f":135.45125,"t":0.020},{"f":135.45375,"t":-0.035},{"f":135.45625,"t":0.031},{"f":135.45875,"t":-0.018},
{"f":135.46125,"t":0.026},{"f":135.46375,"t":-0.024},{"f":135.46625,"t":0.014},{"f":135.46875,"t":0.036},
{"f":135.47125,"t":-0.030},{"f":135.47375,"t":0.022},{"f":135.47625,"t":-0.013},{"f":135.47875,"t":0.028},
{"f":135.48125,"t":-0.033},{"f":135.48375,"t":0.019},{"f":135.48625,"t":-0.026},{"f":135.48875,"t":0.037},
{"f":135.49125,"t":-0.016},{"f":135.49375,"t":0.025},{"f":135.49625,"t":-0.022},{"f":135.49875,"t":0.031},
{"f":135.50125,"t":-0.036},{"f":135.50375,"t":0.017},{"f":135.50625,"t":-0.012},{"f":135.50875,"t":0.029},
{"f":135.51125,"t":-0.027},{"f":135.51375,"t":0.035},{"f":135.51625,"t":-0.019},{"f":135.51875,"t":0.023},
{"f":135.52125,"t":-0.031},{"f":135.52375,"t":0.020},{"f":135.52625,"t":-0.017},{"f":135.52875,"t":0.028},
{"f":135.53125,"t":-0.019},{"f":135.53375,"t":0.024}
]},
"layer": [
{
"mark": {"type": "line", "strokeWidth": 1.5, "clip": true},
"encoding": {
"x": {"field": "f", "type": "quantitative",
"scale": {"domain": [133.634, 135.630], "nice": false, "zero": false},
"axis": {"values": [133.75, 134, 134.25, 134.5, 134.75, 135, 135.25, 135.5], "format": ".3f", "title": "Frequency (MHz)", "offset": 4, "tickSize": 5, "labelPadding": 3, "titlePadding": 7, "labelFlush": false}},
"y": {"field": "t", "type": "quantitative",
"scale": {"domain": [-0.0706, 0.0648], "nice": false, "zero": false},
"axis": {"values": [0.06, 0.05, 0.04, 0.03, 0.02, 0.01, 0, -0.01, -0.02, -0.03, -0.04, -0.05, -0.06, -0.07],
"labelExpr": "replace(replace(format(datum.value, '.2f'), '.', ','), '\u2212', '-')",
"title": "T\u2002\u2002(K)", "titleFontSize": 13, "titleX": -45, "titleY": 247, "offset": 3, "tickSize": 5, "labelPadding": 2, "labelFlush": false}},
"color": {"datum": "133.7-135.5", "type": "nominal", "scale": {"range": ["#000000"]},
"legend": {"title": null, "orient": "none", "legendX": 393, "legendY": 537, "strokeColor": "#000000", "padding": 5, "symbolType": "stroke", "symbolStrokeWidth": 1, "symbolSize": 169, "labelFontSize": 12, "labelColor": "#333333", "labelFont": "Open Sans", "labelOffset": 4}}
}
},
{
"mark": {"type": "rule", "opacity": 0},
"encoding": {
"y": {"datum": 0, "type": "quantitative",
"axis": {"orient": "left", "title": "mb", "titleFontSize": 8, "titleX": -42, "titleY": 254, "labels": false, "ticks": false, "domain": false, "offset": 3}}
}
}
],
"resolve": {"axis": {"y": "independent"}}
}
